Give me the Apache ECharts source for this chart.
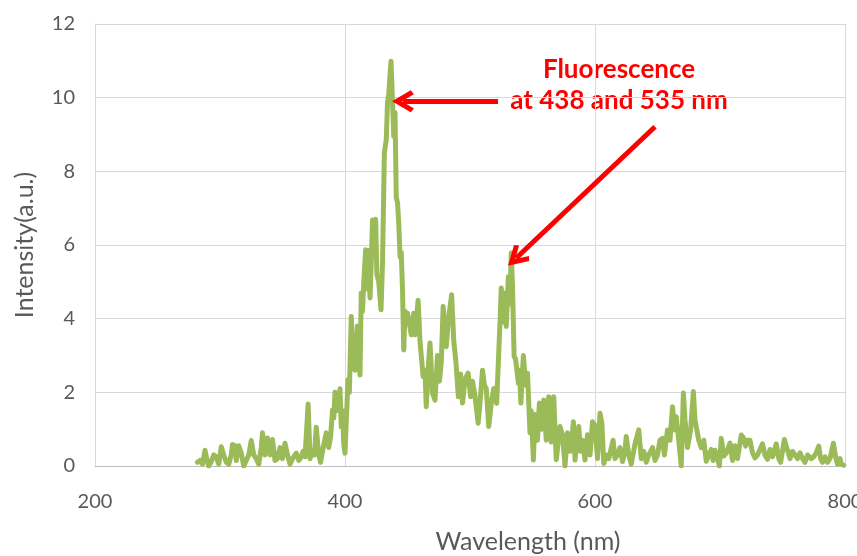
<!DOCTYPE html>
<html>
<head>
<meta charset="utf-8">
<title>Fluorescence spectrum</title>
<script src="https://cdn.jsdelivr.net/npm/echarts@6/dist/echarts.min.js"></script>
<style>
  html, body { margin: 0; padding: 0; background: #ffffff; overflow: hidden; }
  #chart { width: 857px; height: 556px; }
</style>
</head>
<body>
<div id="chart"></div>
<script>
// Emission spectrum: wavelength (nm) and measured intensity (a.u.)
const wavelength = [
  282, 284, 286, 288, 290, 291, 293, 295, 297, 299, 301, 303, 305, 307, 309, 310, 312, 313, 315, 317,
  319, 321, 323, 325, 327, 329, 331, 333, 334, 336, 338, 340, 342, 344, 346, 348, 350, 352, 354, 356,
  358, 361, 363, 365, 366.5, 368, 370.5, 372, 374, 375.5, 377, 379, 380.5, 382, 385, 387, 388.5, 390, 391, 392,
  393.5, 395, 396, 397, 398, 399, 400, 401, 402.4, 403.5, 405, 406, 408, 409, 410, 411, 412, 413, 414, 415,
  416.5, 417.5, 418, 419, 420, 421, 422, 423, 424.5, 425.5, 427, 428.8, 430, 431.5, 433, 434, 435, 436.8, 438, 439,
  440, 441, 442, 443, 444, 445, 446, 447, 448, 449, 450, 451, 453, 455, 456, 458.5, 460, 462.5, 464, 465,
  467, 468, 470, 472, 474, 475.5, 477, 478.5, 481, 482.7, 485.3, 487, 488.8, 490.7, 492.5, 494, 496, 498.5, 500.5, 502,
  504, 506.5, 508, 510, 511.5, 513, 515, 517, 519, 521.3, 524, 525, 527, 528, 529, 530.7, 532, 533, 534, 535.3,
  536.5, 538.7, 539.5, 540.7, 542.7, 544.5, 546, 548, 549, 550.7, 552, 554, 555.5, 557, 559, 561, 563, 565, 567, 569,
  572, 574, 576, 578, 580, 581.5, 582.7, 584, 587, 588.5, 590, 592, 594, 596, 598, 600, 602, 604, 605.5, 607,
  609, 611, 614.5, 616, 618, 620, 622, 624, 625, 627, 629, 632, 635, 637, 639, 641, 643, 646, 648, 650,
  652, 654, 655.5, 658, 660, 662, 663.5, 665, 667, 669, 670.7, 672, 674, 676.5, 678.7, 680, 683, 685, 687, 689,
  691, 693, 694.5, 696, 698, 699.5, 701, 703, 705, 708, 710, 712, 714, 717, 719, 720.5, 722, 724, 726, 728,
  730, 732, 734, 736, 738, 740, 742, 745, 747, 748.5, 751.5, 753, 756, 758, 760, 762, 764, 766, 768, 770,
  773, 775, 777, 779, 780.5, 782, 784, 786, 788, 790.7, 792.5, 794, 796, 797, 799
];
const intensity = [
  0.1, 0.15, 0.05, 0.43, 0.1, 0.0, 0.12, 0.3, 0.25, 0.05, 0.52, 0.3, 0.1, 0.05, 0.3, 0.58, 0.55, 0.15, 0.55, 0.35,
  0.0, 0.15, 0.3, 0.69, 0.3, 0.2, 0.05, 0.5, 0.9, 0.3, 0.76, 0.3, 0.72, 0.15, 0.2, 0.5, 0.2, 0.62, 0.3, 0.05,
  0.2, 0.35, 0.15, 0.25, 0.4, 0.25, 1.68, 0.2, 0.4, 0.3, 1.05, 0.3, 0.1, 0.4, 0.9, 0.5, 0.8, 1.52, 1.3, 2.0,
  1.5, 1.7, 2.1, 1.06, 1.5, 0.6, 0.35, 1.2, 2.34, 2.0, 4.06, 3.4, 2.6, 3.2, 3.8, 3.0, 2.47, 4.7, 4.2, 4.97,
  5.87, 5.3, 4.8, 5.85, 4.56, 5.5, 6.68, 6.0, 6.7, 5.2, 5.0, 4.24, 5.5, 8.5, 8.86, 9.86, 10.1, 10.99, 9.9, 8.95,
  9.6, 7.3, 7.15, 6.6, 5.68, 5.8, 4.8, 3.15, 4.2, 3.9, 4.15, 4.2, 3.56, 4.15, 3.56, 4.5, 3.38, 2.43, 2.6, 1.61,
  2.88, 3.34, 1.98, 1.79, 3.0, 2.3, 2.8, 4.33, 3.24, 3.97, 4.65, 3.4, 2.8, 1.88, 2.5, 1.71, 2.35, 2.52, 1.88, 2.3,
  1.9, 1.16, 1.7, 2.6, 2.2, 2.1, 1.07, 1.7, 2.1, 1.7, 3.9, 4.83, 3.9, 4.7, 3.79, 5.14, 4.4, 5.78, 4.9, 2.97,
  2.9, 2.25, 2.6, 1.71, 3.0, 2.2, 2.52, 0.9, 1.5, 0.16, 1.4, 0.7, 1.71, 1.0, 1.79, 0.7, 1.88, 0.65, 1.88, 0.17,
  1.07, 0.85, 0.0, 0.9, 0.4, 0.7, 1.2, 0.16, 1.07, 0.4, 0.7, 0.16, 0.85, 0.3, 1.2, 1.1, 0.2, 1.43, 1.16, 0.07,
  0.3, 0.2, 0.7, 0.2, 0.3, 0.5, 0.12, 0.4, 0.8, 0.3, 0.05, 0.6, 0.98, 0.2, 0.4, 0.1, 0.3, 0.5, 0.15, 0.3,
  0.7, 0.75, 0.3, 0.98, 0.7, 1.61, 0.98, 1.34, 0.7, 0.0, 1.98, 1.25, 0.5, 0.98, 2.02, 1.25, 0.7, 0.5, 0.7, 0.13,
  0.3, 0.45, 0.15, 0.43, 0.2, 0.0, 0.75, 0.27, 0.35, 0.62, 0.15, 0.55, 0.2, 0.84, 0.75, 0.54, 0.7, 0.7, 0.36, 0.22,
  0.3, 0.45, 0.6, 0.3, 0.18, 0.45, 0.25, 0.6, 0.2, 0.1, 0.72, 0.54, 0.2, 0.4, 0.3, 0.2, 0.36, 0.2, 0.1, 0.3,
  0.2, 0.25, 0.36, 0.54, 0.2, 0.1, 0.25, 0.1, 0.2, 0.62, 0.25, 0.05, 0.2, 0.05, 0.02
];

// Axis ranges and tick steps
const xTicks = { min: 200, max: 800, step: 200 };
const yTicks = { min: 0, max: 12, step: 2 };

// Annotation: the two fluorescence peaks
const noteLines = ['Fluorescence', 'at 438 and 535 nm'];
const peakArrows = [
  { from: [522.4, 9.9], to: [446.4, 9.9] },
  { from: [648, 9.21], to: [536.8, 5.64] }
];

const spectrum = wavelength.map((w, i) => [w, intensity[i]]);

const textGray = '#595959';
const gridGray = '#d9d9d9';
const noteRed = '#ff0000';
const font = 'Lato, "Open Sans", sans-serif';

// Open chevron head, tip pointing up so markLine can rotate it along the shaft
const chevron = 'path://M10,0 L20,17 L16.5,20 L10,9 L3.5,20 L0,17 Z';

const chart = echarts.init(document.getElementById('chart'), null, { renderer: 'canvas' });

chart.setOption({
  animation: false,
  backgroundColor: '#ffffff',
  // fixed plot box; the last x label is allowed to run off the right edge
  grid: { left: 95, right: 12, top: 24, bottom: 90, containLabel: false, outerBoundsMode: 'none' },
  xAxis: {
    type: 'value',
    min: xTicks.min,
    max: xTicks.max,
    interval: xTicks.step,
    name: 'Wavelength (nm)',
    nameLocation: 'middle',
    nameGap: 63,
    nameTextStyle: { color: textGray, fontSize: 25, fontFamily: font, padding: [0, 0, 0, 116] },
    axisLine: { show: true, lineStyle: { color: '#bfbfbf', width: 1 } },
    axisTick: { show: false },
    axisLabel: { color: textGray, fontSize: 20, fontFamily: font, margin: 26 },
    splitLine: { show: true, lineStyle: { color: gridGray, width: 1 } }
  },
  yAxis: {
    type: 'value',
    min: yTicks.min,
    max: yTicks.max,
    interval: yTicks.step,
    name: 'Intensity(a.u.)',
    nameLocation: 'middle',
    nameGap: 58,
    nameTextStyle: { color: textGray, fontSize: 25, fontFamily: font },
    axisLine: { show: true, lineStyle: { color: gridGray, width: 1 } },
    axisTick: { show: false },
    axisLabel: { color: textGray, fontSize: 20, fontFamily: font, margin: 20 },
    splitLine: { show: true, lineStyle: { color: gridGray, width: 1 } }
  },
  series: [{
    type: 'line',
    data: spectrum,
    showSymbol: false,
    smooth: false,
    silent: true,
    lineStyle: { color: '#9bbb59', width: 5, join: 'round', cap: 'round' },
    markLine: {
      silent: true,
      symbol: ['none', chevron],
      symbolSize: [22, 22],
      label: { show: false },
      lineStyle: { color: noteRed, width: 5, type: 'solid' },
      itemStyle: { color: noteRed },
      emphasis: { disabled: true },
      data: peakArrows.map(a => [{ coord: a.from }, { coord: a.to }])
    }
  }],
  graphic: noteLines.map((t, i) => ({
    type: 'text',
    x: 619,
    y: 70 + i * 31,
    silent: true,
    style: {
      text: t,
      fill: noteRed,
      font: 'bold 26px ' + font,
      textAlign: 'center',
      textVerticalAlign: 'middle'
    }
  }))
});
</script>
</body>
</html>
